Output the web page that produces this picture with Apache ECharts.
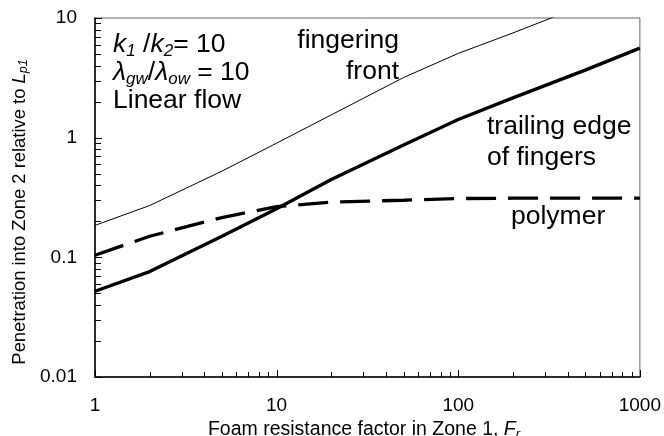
<!DOCTYPE html>
<html>
<head>
<meta charset="utf-8">
<script src="https://cdn.jsdelivr.net/npm/echarts@6/dist/echarts.min.js"></script>
<style>
  html, body { margin: 0; padding: 0; background: #fff; }
  #chart { width: 664px; height: 436px; }
</style>
</head>
<body>
<div id="chart"></div>
<script>
// Foam resistance factor in Zone 1 (x, log scale)
const frValues = [1, 2, 5, 10, 20, 50, 100, 200, 500, 1000];

// Penetration into Zone 2 relative to Lp1 (y, log scale)
const fingeringFront = [0.185, 0.271, 0.525, 0.9, 1.55, 3.18, 5.06, 7.5, 12.9];
const trailingEdge   = [0.052, 0.076, 0.15, 0.255, 0.447, 0.87, 1.42, 2.15, 3.67, 5.6];
const polymer        = [0.104, 0.15, 0.215, 0.265, 0.29, 0.30, 0.31, 0.312, 0.312, 0.312];

// Axis ranges, decade ticks and minor tick positions
const xRange = [1, 1000];
const yRange = [0.01, 10];
const xMajorTicks = [1, 10, 100, 1000];
const yMajorTicks = [0.01, 0.1, 1, 10];
const xMinorTicks = [2, 3, 4, 5, 6, 7, 8, 9, 20, 30, 40, 50, 60, 70, 80, 90, 200, 300, 400, 500, 600, 700, 800, 900];
const yMinorTicks = [0.02, 0.03, 0.04, 0.05, 0.06, 0.07, 0.08, 0.09, 0.2, 0.3, 0.4, 0.5, 0.6, 0.7, 0.8, 0.9, 2, 3, 4, 5, 6, 7, 8, 9];

const FONT = '"Liberation Sans", Arial, Helvetica, sans-serif';

function pairs(xs, ys) {
  return ys.map((y, i) => [xs[i], y]);
}

function fmt(v) {
  return String(Number(v.toPrecision(6)));
}

// Shared rich-text styles: italic symbols and italic subscripts
function richStyles(size, subSize, lh) {
  return {
    i: { fontStyle: 'italic', fontSize: size, fontFamily: FONT, fill: '#000', lineHeight: lh },
    s: { fontStyle: 'italic', fontSize: subSize, fontFamily: FONT, fill: '#000',
         verticalAlign: 'bottom', lineHeight: Math.round(subSize * 0.85) },
    n: { fontSize: size, fontFamily: FONT, fill: '#000', lineHeight: lh }
  };
}

function label(text, x, y, opts) {
  opts = opts || {};
  const size = opts.size || 26.5;
  const lh = opts.lh || Math.round(size * 1.12);
  return {
    type: 'text',
    x: x, y: y,
    rotation: opts.rotation || 0,
    silent: true,
    z: 100,
    style: {
      text: text,
      fontSize: size,
      fontFamily: FONT,
      fill: '#000',
      lineHeight: lh,
      align: opts.align || 'left',
      verticalAlign: opts.vAlign || 'top',
      rich: richStyles(size, opts.subSize || Math.round(size * 0.64), lh)
    }
  };
}

const textLabels = [
  // parameter box in the upper left
  label('{i|k}{s|1} /{i|k}{s|2}= 10', 113, 30),
  label('{i|λ}{s|gw}/{i|λ}{s|ow} = 10', 113, 58),
  label('Linear flow', 113, 86),
  // curve annotations
  label('fingering', 399, 26, { align: 'right' }),
  label('front', 399, 57, { align: 'right' }),
  label('trailing edge', 487, 112),
  label('of fingers', 487, 143),
  label('polymer', 511, 202),
  // axis titles
  label('Foam resistance factor in Zone 1, {i|F}{s|r}', 364, 430,
        { size: 19.5, align: 'center', vAlign: 'middle', subSize: 13 }),
  label('Penetration into Zone 2 relative to {i|L}{s|p1}', 20, 212,
        { size: 18.4, align: 'center', vAlign: 'middle', subSize: 12.5, rotation: Math.PI / 2 })
];

const chart = echarts.init(document.getElementById('chart'), null, { renderer: 'canvas' });

chart.setOption({
  animation: false,
  backgroundColor: '#fff',
  grid: {
    left: 95, right: 24, top: 18, bottom: 59,
    show: true,
    borderColor: '#666',
    borderWidth: 1,
    backgroundColor: 'transparent'
  },
  xAxis: {
    type: 'log',
    logBase: 10,
    min: xRange[0],
    max: xRange[1],
    axisLine: { show: true, lineStyle: { color: '#000', width: 1.5 } },
    axisTick: { show: false },
    splitLine: { show: false },
    minorTick: { show: false },
    axisLabel: {
      color: '#000', fontSize: 19, fontFamily: FONT, margin: 19,
      formatter: fmt
    }
  },
  yAxis: {
    type: 'log',
    logBase: 10,
    min: yRange[0],
    max: yRange[1],
    axisLine: { show: true, lineStyle: { color: '#000', width: 1.5 } },
    axisTick: { show: false },
    splitLine: { show: false },
    minorTick: { show: false },
    axisLabel: {
      color: '#000', fontSize: 19, fontFamily: FONT, margin: 18,
      formatter: fmt
    }
  },
  series: [
    {
      name: 'fingering front',
      type: 'line',
      data: pairs(frValues, fingeringFront),
      showSymbol: false,
      clip: true,
      lineStyle: { color: '#000', width: 1 },
      z: 3
    },
    {
      name: 'trailing edge of fingers',
      type: 'line',
      data: pairs(frValues, trailingEdge),
      showSymbol: false,
      clip: true,
      lineStyle: { color: '#000', width: 3.3 },
      z: 3
    },
    {
      name: 'polymer',
      type: 'line',
      data: pairs(frValues, polymer),
      showSymbol: false,
      clip: true,
      lineStyle: { color: '#000', width: 3.3, type: [30, 12] },
      z: 3
    }
  ],
  graphic: { elements: textLabels }
});

// Inward tick marks along the bottom and left axes, placed with the axis scales
function tickMarks() {
  const els = [];
  const x0 = chart.convertToPixel({ xAxisIndex: 0 }, xRange[0]);
  const y0 = chart.convertToPixel({ yAxisIndex: 0 }, yRange[0]);
  const add = (vals, horizontal, len) => {
    vals.forEach(v => {
      if (horizontal) {
        const x = Math.round(chart.convertToPixel({ xAxisIndex: 0 }, v)) + 0.5;
        const y = Math.round(y0);
        els.push({ type: 'line', silent: true, z: 50,
          shape: { x1: x, y1: y, x2: x, y2: y - len },
          style: { stroke: '#000', lineWidth: 1 } });
      } else {
        const y = Math.round(chart.convertToPixel({ yAxisIndex: 0 }, v)) + 0.5;
        const x = Math.round(x0);
        els.push({ type: 'line', silent: true, z: 50,
          shape: { x1: x, y1: y, x2: x + len, y2: y },
          style: { stroke: '#000', lineWidth: 1 } });
      }
    });
  };
  add(xMajorTicks, true, 7);
  add(xMinorTicks, true, 5);
  add(yMajorTicks, false, 7);
  add(yMinorTicks, false, 6);
  return els;
}

chart.setOption({ graphic: { elements: textLabels.concat(tickMarks()) } }, { replaceMerge: ['graphic'] });
</script>
</body>
</html>
